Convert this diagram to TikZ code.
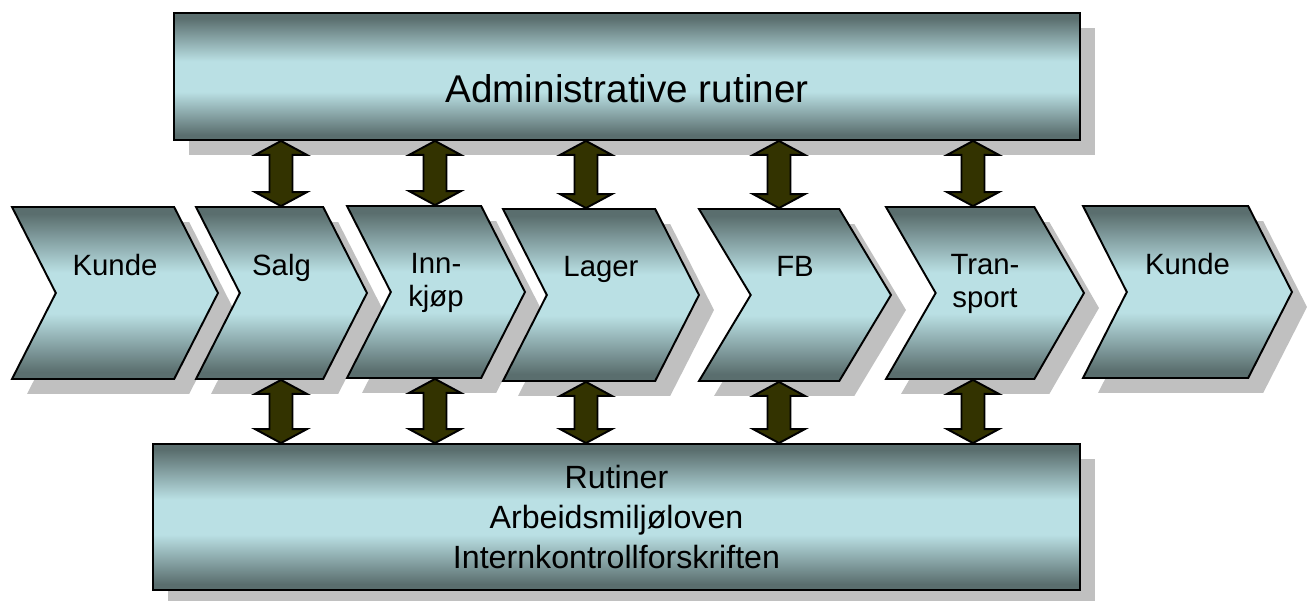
\documentclass[tikz,border=0pt]{standalone}
\usepackage{fontspec}
\setmainfont{Liberation Sans}
\usetikzlibrary{shapes.symbols, shadows, calc}

\definecolor{tealdark}{RGB}{90,110,110}
\definecolor{teallight}{RGB}{186,224,228}
\definecolor{shadowgray}{RGB}{192,192,192}
\definecolor{arrowolive}{RGB}{51,51,0}

\pgfdeclareverticalshading{tealbar}{100bp}{color(0bp)=(tealdark); color(27bp)=(tealdark); color(44bp)=(teallight); color(56bp)=(teallight); color(73bp)=(tealdark); color(100bp)=(tealdark)}

% block arrow with a head at both ends
\newcommand{\twoway}[2]{%
  \path[twoway] let \p1=(#1), \p2=(#2) in
    (\x1,\y1) -- (\x1+0.52cm,\y1-0.28cm) -- (\x1+0.23cm,\y1-0.28cm)
    -- (\x1+0.23cm,\y2+0.28cm) -- (\x1+0.52cm,\y2+0.28cm) -- (\x1,\y2)
    -- (\x1-0.52cm,\y2+0.28cm) -- (\x1-0.23cm,\y2+0.28cm)
    -- (\x1-0.23cm,\y1-0.28cm) -- (\x1-0.52cm,\y1-0.28cm) -- cycle;}

\begin{document}
\begin{tikzpicture}[
    x=0.02cm, y=-0.02cm,
    shadowed/.style={shading=tealbar, draw=black, line width=1.1pt,
      drop shadow={shadow xshift=0.3cm, shadow yshift=-0.3cm, fill=shadowgray, opacity=1}},
    bar/.style={shadowed, rectangle, inner sep=0pt},
    chevron/.style={shadowed, signal, signal from=west, signal to=east,
      signal pointer angle=126, minimum height=3.44cm, inner sep=0pt},
    chevtext/.style={anchor=north, yshift=-0.96cm, inner sep=0pt, align=center,
      font=\fontsize{16.7}{18.7}\selectfont},
    twoway/.style={draw=black, fill=arrowolive, line width=1.1pt, line join=miter}
]
\useasboundingbox (0,0) rectangle (1313,600);

\node[bar, minimum width=18.12cm, minimum height=2.54cm, text height=1.02cm, text depth=0pt,
  font=\fontsize{22}{26}\selectfont] (admin) at (627,76.5) {Administrative rutiner};

\node[chevron, minimum width=4.12cm, label={[chevtext, name=kunde1txt]north:Kunde}] (kunde1) at (115,293) {};
\node[chevron, minimum width=3.42cm, label={[chevtext, name=salgtxt]north:Salg}] (salg) at (281.5,293) {};
\node[chevron, minimum width=3.56cm, label={[chevtext, name=innkjoptxt]north:Inn-\\kjøp}] (innkjop) at (436,292) {};
\node[chevron, minimum width=3.92cm, label={[chevtext, name=lagertxt]north:Lager}] (lager) at (601,295) {};
\node[chevron, minimum width=3.84cm, signal pointer angle=118, label={[chevtext, name=fbtxt]north:FB}] (fb) at (795,295) {};
\node[chevron, minimum width=3.96cm, signal pointer angle=120, label={[chevtext, name=transporttxt]north:Tran-\\sport}] (transport) at (985,293) {};
\node[chevron, minimum width=4.18cm, label={[chevtext, name=kunde2txt]north:Kunde}] (kunde2) at (1187.5,292) {};

\node[bar, minimum width=18.54cm, minimum height=2.92cm, align=center,
  font=\fontsize{18.3}{22.7}\selectfont] (rules) at (616.5,517)
  {Rutiner\\Arbeidsmiljøloven\\Internkontrollforskriften};

\coordinate (xsalg) at (281,0);
\coordinate (xinnkjop) at (435,0);
\coordinate (xlager) at (586,0);
\coordinate (xfb) at (779,0);
\coordinate (xtransport) at (973,0);

\twoway{admin.south -| xsalg}{salg.north -| xsalg}
\twoway{admin.south -| xinnkjop}{innkjop.north -| xinnkjop}
\twoway{admin.south -| xlager}{lager.north -| xlager}
\twoway{admin.south -| xfb}{fb.north -| xfb}
\twoway{admin.south -| xtransport}{transport.north -| xtransport}

\twoway{salg.south -| xsalg}{rules.north -| xsalg}
\twoway{innkjop.south -| xinnkjop}{rules.north -| xinnkjop}
\twoway{lager.south -| xlager}{rules.north -| xlager}
\twoway{fb.south -| xfb}{rules.north -| xfb}
\twoway{transport.south -| xtransport}{rules.north -| xtransport}
\end{tikzpicture}
\end{document}
